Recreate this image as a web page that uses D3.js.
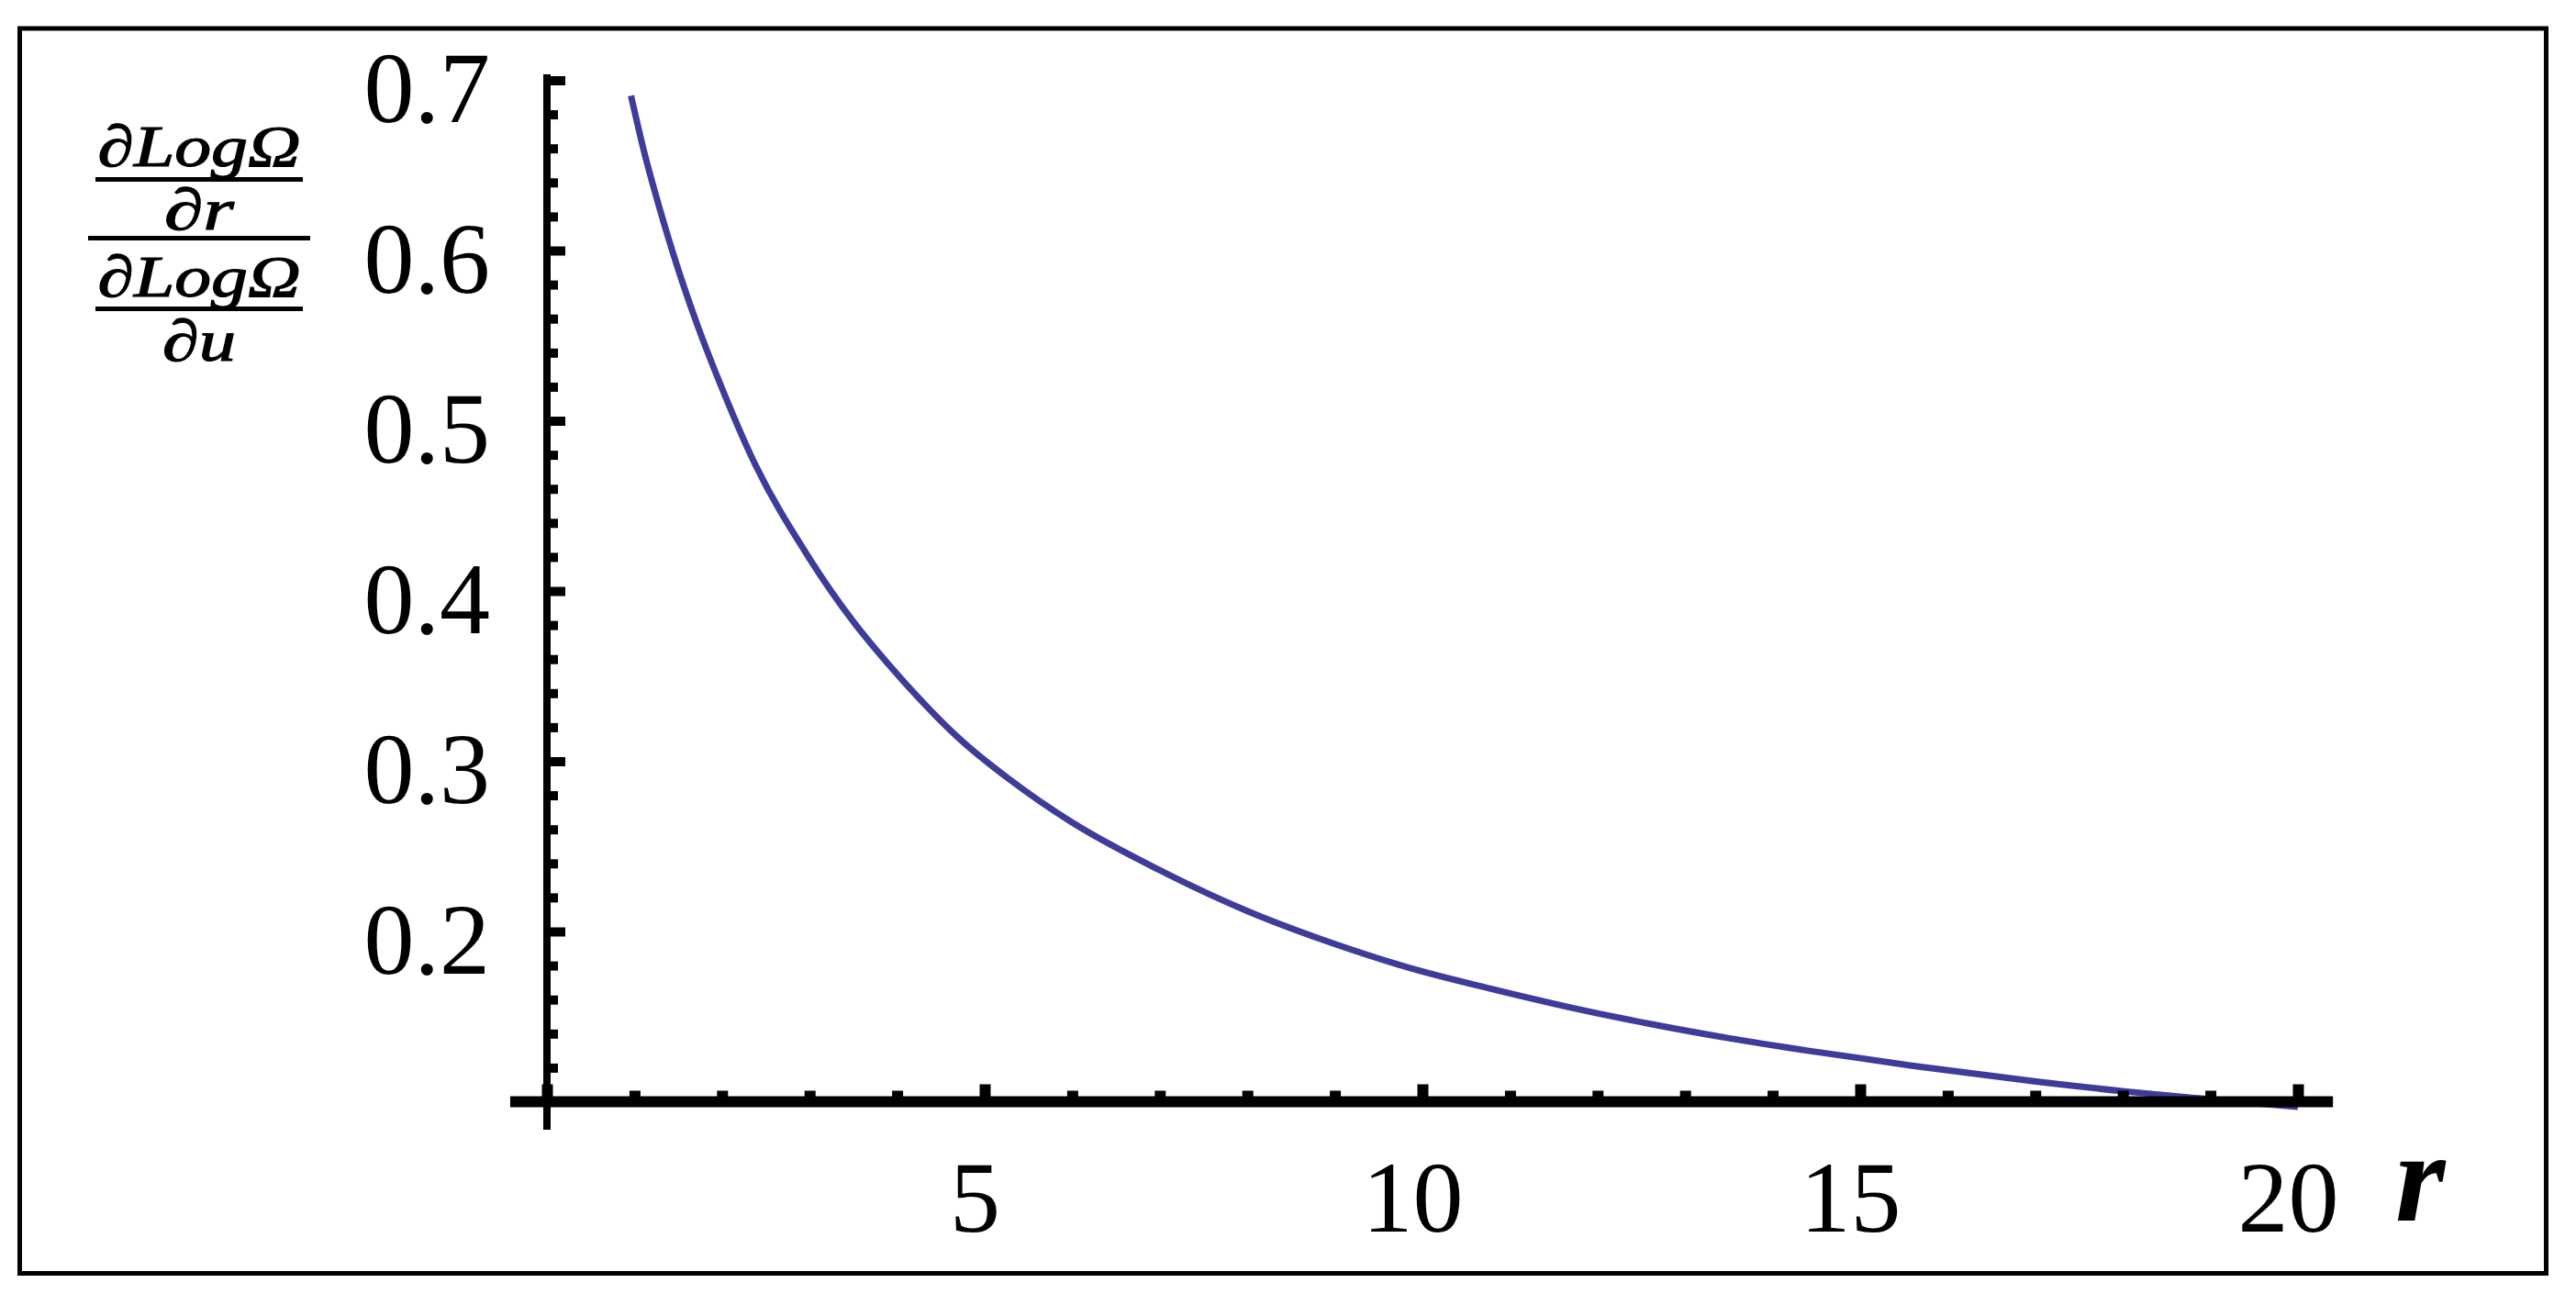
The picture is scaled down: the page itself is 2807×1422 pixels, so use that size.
<!DOCTYPE html>
<html>
<head>
<meta charset="utf-8">
<script src="https://cdn.jsdelivr.net/npm/d3@7"></script>
<style>
  html, body { margin: 0; padding: 0; background: #fff; }
  svg { display: block; }
  text { font-family: "Liberation Serif", "Times New Roman", serif; fill: #000; }
</style>
</head>
<body>
<div id="chart"></div>
<script>
// values (r, ratio of log-derivatives)
const rValues = [0.96, 1.11, 1.28, 1.48, 1.72, 2.0, 2.34, 3.0, 3.5, 3.9, 4.24, 4.76, 5.28, 6.0, 7.0, 8.0, 8.95, 9.86, 10.77, 11.68, 12.59, 13.49, 14.4, 15.59, 16.99, 18.04, 18.87, 20.0];
const ratioValues = [0.691, 0.658, 0.626, 0.592, 0.556, 0.519, 0.4785, 0.419, 0.382, 0.357, 0.3375, 0.311, 0.2895, 0.264, 0.236, 0.212, 0.1935, 0.1785, 0.1665, 0.1555, 0.1458, 0.1374, 0.13, 0.1212, 0.112, 0.106, 0.102, 0.097];

const xMajorTicks = [5, 10, 15, 20];
const xMinorTicks = [1, 2, 3, 4, 6, 7, 8, 9, 11, 12, 13, 14, 16, 17, 18, 19];
const xTickLabels = ["5", "10", "15", "20"];
const yMajorTicks = [0.2, 0.3, 0.4, 0.5, 0.6, 0.7];
const yMinorTicks = [0.12, 0.14, 0.16, 0.18, 0.22, 0.24, 0.26, 0.28, 0.32, 0.34, 0.36, 0.38,
                     0.42, 0.44, 0.46, 0.48, 0.52, 0.54, 0.56, 0.58, 0.62, 0.64, 0.66, 0.68];
const yTickLabels = ["0.2", "0.3", "0.4", "0.5", "0.6", "0.7"];

const width = 2807, height = 1422;

const svg = d3.select("#chart")
    .append("svg")
    .attr("width", width)
    .attr("height", height);

svg.append("rect")
    .attr("width", width)
    .attr("height", height)
    .attr("fill", "#fff");

// outer frame
svg.append("rect")
    .attr("x", 21.5)
    .attr("y", 31)
    .attr("width", 2753)
    .attr("height", 1356.5)
    .attr("fill", "none")
    .attr("stroke", "#000")
    .attr("stroke-width", 5);

const x = d3.scaleLinear().domain([0, 20]).range([596, 2504]);
const y = d3.scaleLinear().domain([0.1, 0.7]).range([1200.5, 87.5]);

// curve first, axes are painted over it
const line = d3.line()
    .x(d => x(d[0]))
    .y(d => y(d[1]))
    .curve(d3.curveMonotoneX);

svg.append("path")
    .datum(d3.zip(rValues, ratioValues))
    .attr("d", line)
    .attr("fill", "none")
    .attr("stroke", "#3d3d99")
    .attr("stroke-width", 7);

// y axis (ticks on the inside, labels further left)
const yAxisG = svg.append("g").attr("transform", `translate(${x(0)},0)`);

yAxisG.append("line")
    .attr("y1", y(0.7035))
    .attr("y2", y(0.0835))
    .attr("stroke", "#000")
    .attr("stroke-width", 8);

yAxisG.append("g")
    .call(d3.axisRight(y).tickValues(yMinorTicks).tickSize(12).tickFormat(""))
    .call(g => g.select(".domain").remove())
    .call(g => g.selectAll("line").attr("stroke", "#000").attr("stroke-width", 10));

yAxisG.append("g")
    .call(d3.axisRight(y).tickValues(yMajorTicks).tickSize(20).tickFormat(""))
    .call(g => g.select(".domain").remove())
    .call(g => g.selectAll("line").attr("stroke", "#000").attr("stroke-width", 10));

yAxisG.append("g")
    .call(d3.axisLeft(y).tickValues(yMajorTicks).tickSize(0).tickPadding(62)
        .tickFormat((d, i) => yTickLabels[i]))
    .call(g => g.select(".domain").remove())
    .call(g => g.selectAll("text")
        .attr("font-family", null)
        .attr("font-size", 110)
        .attr("dy", "0.41em"));

// x axis
const xAxisG = svg.append("g").attr("transform", `translate(0,${y(0.1)})`);

xAxisG.append("line")
    .attr("x1", x(-0.42))
    .attr("x2", x(20.4))
    .attr("stroke", "#000")
    .attr("stroke-width", 12);

xAxisG.append("g")
    .call(d3.axisTop(x).tickValues(xMinorTicks).tickSize(12).tickFormat(""))
    .call(g => g.select(".domain").remove())
    .call(g => g.selectAll("line").attr("stroke", "#000").attr("stroke-width", 12));

xAxisG.append("g")
    .call(d3.axisTop(x).tickValues([0].concat(xMajorTicks)).tickSize(19).tickFormat(""))
    .call(g => g.select(".domain").remove())
    .call(g => g.selectAll("line").attr("stroke", "#000").attr("stroke-width", 12));

xAxisG.append("g")
    .call(d3.axisBottom(x).tickValues(xMajorTicks).tickSize(0)
        .tickFormat((d, i) => xTickLabels[i]))
    .call(g => g.select(".domain").remove())
    .call(g => g.selectAll("text")
        .attr("font-family", null)
        .attr("font-size", 110)
        .attr("y", 141)
        .attr("dy", 0)
        .attr("dx", -11));

// axis label r
svg.append("text")
    .attr("x", 2610)
    .attr("y", 1330)
    .attr("font-size", 140)
    .attr("font-style", "italic")
    .attr("font-weight", "bold")
    .text("r");

// y label: nested fraction (∂LogΩ/∂r) / (∂LogΩ/∂u), one text element with stacked tspans
const yLabel = svg.append("g").attr("class", "y-label");
const labelCx = 217;

const labelParts = [
    { text: "∂LogΩ", y: 181, len: 221 },
    { text: "∂r", y: 250, len: 76 },
    { text: "∂LogΩ", y: 323, len: 221 },
    { text: "∂u", y: 393, len: 80 }
];

yLabel.append("text")
    .attr("text-anchor", "middle")
    .attr("font-size", 64)
    .attr("font-style", "italic")
    .attr("stroke", "#000")
    .attr("stroke-width", 1.2)
    .selectAll("tspan")
    .data(labelParts)
    .enter()
    .append("tspan")
    .attr("x", labelCx)
    .attr("y", d => d.y)
    .attr("textLength", d => d.len)
    .attr("lengthAdjust", "spacingAndGlyphs")
    .text(d => d.text);

const fractionBars = [
    { x1: 104, x2: 330, y: 195.5 },
    { x1: 96, x2: 338, y: 259.5 },
    { x1: 104, x2: 330, y: 336.5 }
];

yLabel.selectAll("line")
    .data(fractionBars)
    .enter()
    .append("line")
    .attr("x1", d => d.x1)
    .attr("x2", d => d.x2)
    .attr("y1", d => d.y)
    .attr("y2", d => d.y)
    .attr("stroke", "#000")
    .attr("stroke-width", 5);
</script>
</body>
</html>
